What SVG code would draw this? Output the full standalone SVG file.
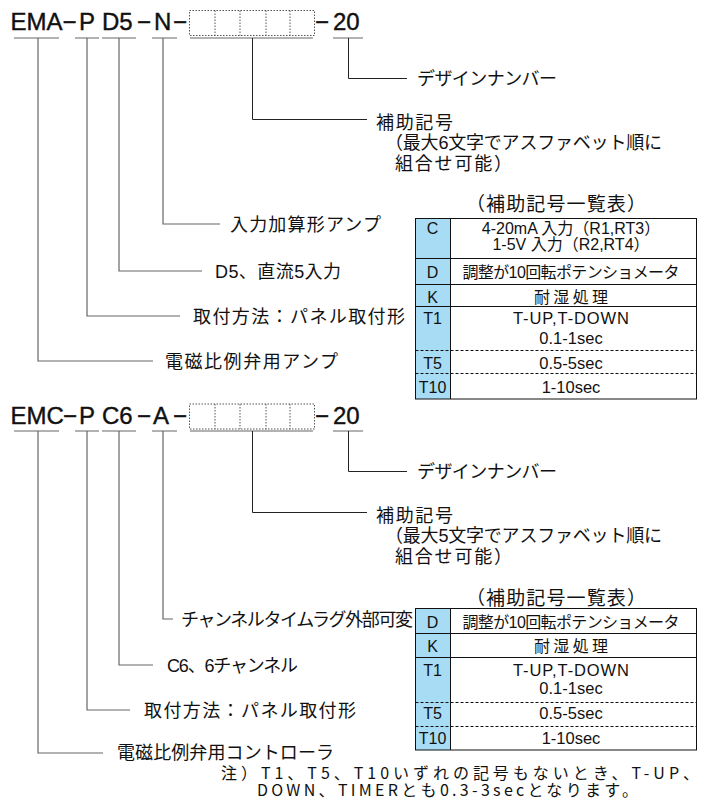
<svg xmlns="http://www.w3.org/2000/svg" width="704" height="805" viewBox="0 0 704 805">
<style>
.code{font-family:"Liberation Sans","Noto Sans CJK JP",sans-serif;font-size:24px;fill:#111;stroke:#111;stroke-width:0.4}
.lbl{font-family:"Liberation Sans","Noto Sans CJK JP",sans-serif;font-size:18px;fill:#111}
.note{font-family:"Noto Sans CJK JP",sans-serif;font-size:16px;fill:#111}
.tb{font-family:"Liberation Sans","Noto Sans CJK JP",sans-serif;font-size:16px;fill:#111}
.tc{text-anchor:middle}
.ul{stroke:#666;stroke-width:1.2;fill:none}
.gl{stroke:#666;stroke-width:1.2;fill:none}
.bl{stroke:#222;stroke-width:1;fill:none}
.box{fill:none;stroke:#555;stroke-width:1;stroke-dasharray:1.5 1.5}
.cell{fill:#a8dcf5}
.tl{stroke:#111;stroke-width:1;fill:none}
.td{stroke:#111;stroke-width:1;stroke-dasharray:3 2;fill:none}
</style>
<defs>
<g id="slots">
<rect class="box" x="189.5" y="10.5" width="125" height="25"/>
<path class="box" d="M215 10.5V35.5M240 10.5V35.5M266 10.5V35.5M290 10.5V35.5"/>
</g>
</defs>

<g id="model1">
<text class="code" x="10.5" y="30">EMA</text>
<text class="code" x="62.5" y="30">−</text>
<text class="code" x="79" y="30">P</text>
<text class="code" x="102" y="30">D5</text>
<text class="code" x="137" y="30">−</text>
<text class="code" x="154" y="30">N</text>
<text class="code" x="173" y="30">−</text>
<use href="#slots"/>
<text class="code" x="315" y="30">−</text>
<text class="code" x="333" y="30">20</text>
<path class="ul" d="M14 38H59M75 38H99M102 38H136M152 38H177M190 38H313M333 38H363"/>
</g>

<g id="model2">
<text class="code" x="10.5" y="424">EMC</text>
<text class="code" x="63" y="424">−</text>
<text class="code" x="79" y="424">P</text>
<text class="code" x="102" y="424">C6</text>
<text class="code" x="137" y="424">−</text>
<text class="code" x="153" y="424">A</text>
<text class="code" x="173" y="424">−</text>
<use href="#slots" y="393.5"/>
<text class="code" x="315" y="424">−</text>
<text class="code" x="333" y="424">20</text>
<path class="ul" d="M14 431H59M75 431H99M102 431H136M152 431H177M190 431H313M333 431H363"/>
</g>

<g id="connectors">
<path class="gl" d="M38 38V361H153"/>
<path class="gl" d="M87 38V316H180"/>
<path class="gl" d="M119 38V271H202"/>
<path class="gl" d="M163 38V224H220"/>
<path class="bl" d="M252.5 38V119.5H367"/>
<path class="bl" d="M348.5 38V78.5H407"/>
<path class="gl" d="M38 431V753H103"/>
<path class="gl" d="M87 431V710H130"/>
<path class="gl" d="M119 431V665H153"/>
<path class="gl" d="M163 431V619H173"/>
<path class="bl" d="M252.5 431V512.5H367"/>
<path class="bl" d="M348.5 431V471.5H407"/>
</g>

<g id="labels1">
<text class="lbl" x="417" y="85" textLength="140">デザインナンバー</text>
<text class="lbl" x="376" y="128.5" textLength="77">補助記号</text>
<text class="lbl" x="385" y="148.5" textLength="277">（最大6文字でアスファベット順に</text>
<text class="lbl" x="395" y="169.5" textLength="117">組合せ可能）</text>
<text class="lbl" x="230" y="230.5" textLength="151">入力加算形アンプ</text>
<text class="lbl" x="215" y="277.5" textLength="126">D5、直流5入力</text>
<text class="lbl" x="193" y="322.5" textLength="212">取付方法：パネル取付形</text>
<text class="lbl" x="165" y="367.5" textLength="173">電磁比例弁用アンプ</text>
</g>

<g id="table1">
<text class="lbl" x="466" y="210.5" style="font-size:19px" textLength="180">（補助記号一覧表）</text>
<rect class="cell" x="415" y="218" width="35" height="181"/>
<rect class="tl" x="415.5" y="218.5" width="281" height="180.5"/>
<path class="tl" d="M450.5 218.5V399M415.5 258.5H696.5M415.5 284.5H696.5M415.5 306.5H696.5"/>
<path class="td" d="M415.5 350.5H696.5M415.5 373.5H696.5"/>
<text class="tb tc" x="432.5" y="234">C</text>
<text class="tb tc" x="571" y="234">4-20mA 入力（R1,RT3）</text>
<text class="tb tc" x="571" y="250">1-5V 入力（R2,RT4）</text>
<text class="tb tc" x="432.5" y="278">D</text>
<text class="tb tc" x="571" y="278" textLength="217">調整が10回転ポテンショメータ</text>
<text class="tb tc" x="432.5" y="303">K</text>
<text class="tb tc" x="571" y="303" textLength="74">耐湿処理</text>
<text class="tb tc" x="432.5" y="324">T1</text>
<text class="tb tc" x="571" y="324" style="font-size:16.5px" textLength="116">T-UP,T-DOWN</text>
<text class="tb tc" x="571" y="344" style="font-size:16.5px">0.1-1sec</text>
<text class="tb tc" x="432.5" y="369">T5</text>
<text class="tb tc" x="571" y="369" style="font-size:16.5px">0.5-5sec</text>
<text class="tb tc" x="432.5" y="393">T10</text>
<text class="tb tc" x="571" y="393" style="font-size:16.5px">1-10sec</text>
</g>

<g id="labels2">
<text class="lbl" x="417" y="478" textLength="140">デザインナンバー</text>
<text class="lbl" x="376" y="521.5" textLength="77">補助記号</text>
<text class="lbl" x="385" y="542" textLength="277">（最大5文字でアスファベット順に</text>
<text class="lbl" x="395" y="563" textLength="117">組合せ可能）</text>
<text class="lbl" x="181" y="625.5" textLength="232">チャンネルタイムラグ外部可変</text>
<text class="lbl" x="167" y="671.5" textLength="131">C6、6チャンネル</text>
<text class="lbl" x="144" y="716.5" textLength="212">取付方法：パネル取付形</text>
<text class="lbl" x="117" y="759" textLength="217">電磁比例弁用コントローラ</text>
</g>

<g id="table2">
<text class="lbl" x="466" y="604.5" style="font-size:19px" textLength="180">（補助記号一覧表）</text>
<rect class="cell" x="415" y="608" width="35" height="142"/>
<rect class="tl" x="415.5" y="608.5" width="281" height="141.5"/>
<path class="tl" d="M450.5 608.5V750M415.5 633.5H696.5M415.5 657.5H696.5"/>
<path class="td" d="M415.5 702.5H696.5M415.5 726.5H696.5"/>
<text class="tb tc" x="432.5" y="628">D</text>
<text class="tb tc" x="571" y="628" textLength="217">調整が10回転ポテンショメータ</text>
<text class="tb tc" x="432.5" y="652">K</text>
<text class="tb tc" x="571" y="652" textLength="74">耐湿処理</text>
<text class="tb tc" x="432.5" y="676">T1</text>
<text class="tb tc" x="571" y="676" style="font-size:16.5px" textLength="116">T-UP,T-DOWN</text>
<text class="tb tc" x="571" y="694" style="font-size:16.5px">0.1-1sec</text>
<text class="tb tc" x="432.5" y="719">T5</text>
<text class="tb tc" x="571" y="719" style="font-size:16.5px">0.5-5sec</text>
<text class="tb tc" x="432.5" y="744">T10</text>
<text class="tb tc" x="571" y="744" style="font-size:16.5px">1-10sec</text>
</g>

<g id="note">
<text class="note" x="221" y="779" textLength="478">注）T1、T5、T10いずれの記号もないとき、T-UP、</text>
<text class="note" x="257" y="796" textLength="381">DOWN、TIMERとも0.3-3secとなります。</text>
</g>
</svg>
